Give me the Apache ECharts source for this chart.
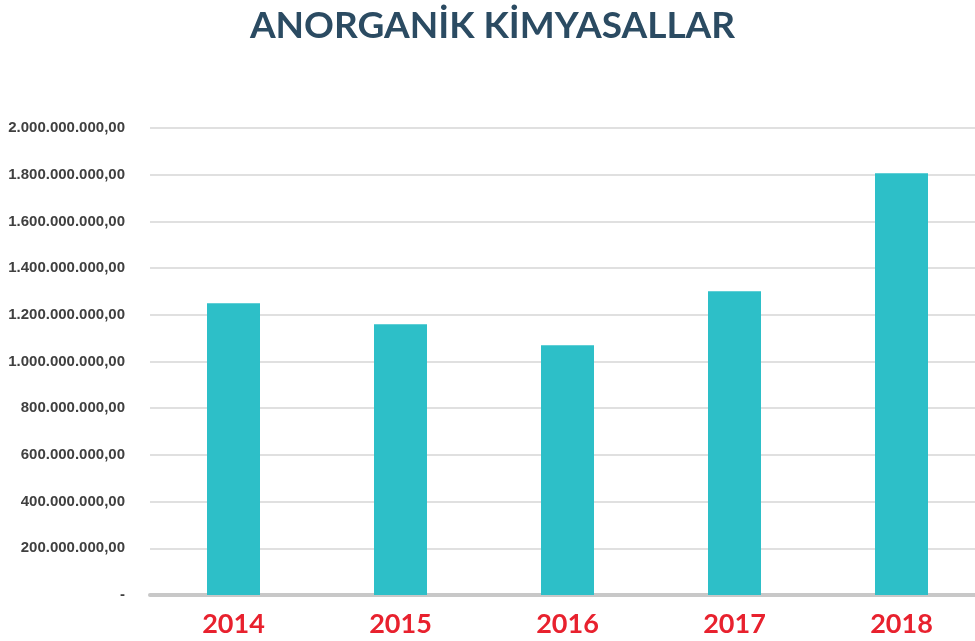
<!DOCTYPE html>
<html>
<head>
<meta charset="utf-8">
<script src="https://cdn.jsdelivr.net/npm/echarts@6/dist/echarts.min.js"></script>
<style>
html,body{margin:0;padding:0;background:#fff;overflow:hidden;}
#c{width:985px;height:641px;}
</style>
</head>
<body>
<div id="c"></div>
<script>
const titleText = 'ANORGANİK KİMYASALLAR';
const years = ['2014', '2015', '2016', '2017', '2018'];
const values = [1250000000, 1160000000, 1070000000, 1301000000, 1806000000];

function fmt(v) {
  if (v === 0) return '-';
  const s = String(Math.round(v)).replace(/\B(?=(\d{3})+(?!\d))/g, '.');
  return s + ',00';
}

const chart = echarts.init(document.getElementById('c'));
chart.setOption({
  animation: false,
  backgroundColor: '#ffffff',
  title: {
    text: titleText,
    left: 'center',
    top: 3,
    textStyle: {
      fontFamily: 'Lato',
      fontWeight: 'bold',
      fontSize: 37,
      color: '#2b4b62'
    }
  },
  grid: {
    left: 150,
    right: 0,
    top: 128,
    bottom: 46,
    containLabel: false
  },
  xAxis: {
    type: 'category',
    data: years,
    axisTick: { show: false },
    axisLine: { show: true, lineStyle: { color: '#c8c8c8', width: 4 } },
    axisLabel: {
      margin: 16,
      fontFamily: 'Lato',
      fontWeight: 'bold',
      fontSize: 27,
      color: '#e8212e'
    }
  },
  yAxis: {
    type: 'value',
    min: 0,
    max: 2000000000,
    interval: 200000000,
    axisLine: { show: false },
    axisTick: { show: false },
    splitLine: { show: true, lineStyle: { color: '#d6d6d6', width: 1.5 } },
    axisLabel: {
      margin: 25,
      fontFamily: 'Liberation Sans',
      fontWeight: 'bold',
      fontSize: 15,
      color: '#404040',
      formatter: fmt
    }
  },
  series: [{
    type: 'bar',
    data: values,
    barWidth: 53,
    itemStyle: { color: '#2dbfc8' }
  }]
});
</script>
</body>
</html>
